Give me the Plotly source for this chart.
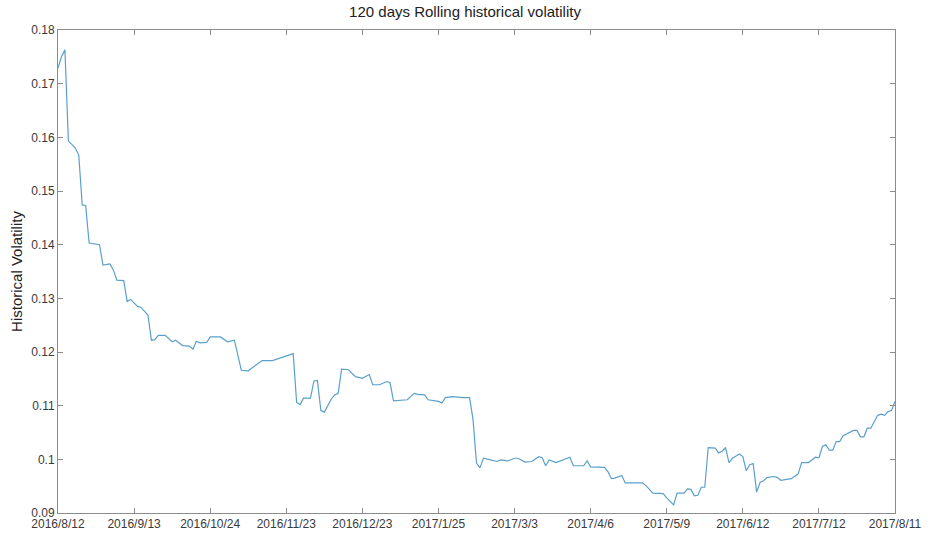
import plotly.graph_objects as go

# Rolling 120-day historical volatility, sampled on trading-day index
day = [0, 1, 2, 3, 4, 5, 6, 7, 8, 9, 12, 13, 15, 16, 17, 19, 20, 21, 23, 24,
       26, 27, 28, 29, 31, 33, 34, 36, 38, 39, 40, 41, 43, 44, 47, 49, 51, 53,
       55, 58, 59, 62, 65, 66, 68, 69, 70, 71, 73, 74, 75, 76, 77, 79, 80, 81,
       82, 84, 86, 88, 90, 91, 93, 95, 96, 97, 101, 103, 104, 106, 107, 110,
       111, 112, 114, 117, 119, 120, 121, 122, 123, 125, 127, 128, 130, 132,
       133, 135, 137, 139, 140, 141, 142, 144, 146, 148, 149, 152, 153, 154,
       158, 159, 160, 161, 163, 164, 169, 170, 172, 175, 176, 178, 179, 181,
       182, 183, 184, 185, 186, 187, 188, 190, 191, 192, 193, 194, 195, 197,
       198, 199, 200, 201, 202, 203, 204, 205, 207, 208, 209, 212, 214, 215,
       217, 219, 220, 221, 222, 223, 224, 225, 226, 227, 230, 231, 232, 233,
       234, 235, 237, 238, 239, 240, 241, 242]
vol = [0.1729, 0.1750, 0.1763, 0.1593, 0.1587, 0.1580, 0.1567, 0.1474, 0.1473,
       0.1403, 0.1400, 0.1362, 0.1364, 0.1353, 0.1334, 0.1333, 0.1294, 0.1298,
       0.1285, 0.1283, 0.1269, 0.1222, 0.1223, 0.1231, 0.1231, 0.1219, 0.1222,
       0.1212, 0.1211, 0.1205, 0.1220, 0.1217, 0.1218, 0.1228, 0.1228, 0.1219,
       0.1222, 0.1166, 0.1165, 0.1180, 0.1184, 0.1184, 0.1190, 0.1192, 0.1197,
       0.1106, 0.1102, 0.1114, 0.1114, 0.1146, 0.1147, 0.1091, 0.1088, 0.1112,
       0.1120, 0.1123, 0.1168, 0.1167, 0.1154, 0.1151, 0.1158, 0.1139, 0.1139,
       0.1145, 0.1143, 0.1109, 0.1111, 0.1123, 0.1121, 0.1120, 0.1111, 0.1108,
       0.1105, 0.1115, 0.1117, 0.1115, 0.1115, 0.1074, 0.0993, 0.0984, 0.1002,
       0.0999, 0.0996, 0.0999, 0.0997, 0.1002, 0.1002, 0.0995, 0.0996, 0.1005,
       0.1003, 0.0988, 0.0999, 0.0994, 0.0999, 0.1004, 0.0988, 0.0988, 0.0997,
       0.0986, 0.0985, 0.0977, 0.0964, 0.0965, 0.0970, 0.0956, 0.0956, 0.0951,
       0.0937, 0.0936, 0.0928, 0.0915, 0.0937, 0.0937, 0.0945, 0.0944, 0.0932,
       0.0933, 0.0948, 0.0948, 0.1022, 0.1021, 0.1012, 0.1015, 0.1022, 0.0994,
       0.1002, 0.1010, 0.1005, 0.0979, 0.0990, 0.0992, 0.0939, 0.0957, 0.0960,
       0.0966, 0.0968, 0.0966, 0.0961, 0.0964, 0.0973, 0.0994, 0.0994, 0.1004,
       0.1003, 0.1024, 0.1027, 0.1017, 0.1017, 0.1033, 0.1033, 0.1044, 0.1054,
       0.1054, 0.1042, 0.1042, 0.1058, 0.1058, 0.1082, 0.1084, 0.1082, 0.1089,
       0.1091, 0.1108]

tick_days = [0, 22, 44, 66, 88, 110, 132, 154, 176, 198, 220, 242]
tick_dates = ["2016/8/12", "2016/9/13", "2016/10/24", "2016/11/23",
              "2016/12/23", "2017/1/25", "2017/3/3", "2017/4/6", "2017/5/9",
              "2017/6/12", "2017/7/12", "2017/8/11"]
y_ticks = [0.09, 0.10, 0.11, 0.12, 0.13, 0.14, 0.15, 0.16, 0.17, 0.18]
y_tick_text = ["0.09", "0.1", "0.11", "0.12", "0.13", "0.14", "0.15",
               "0.16", "0.17", "0.18"]

FONT = "Liberation Sans, Arial, sans-serif"
AXIS_GRAY = "#8c8c8c"
TEXT_GRAY = "#3a3a3a"

fig = go.Figure(
    go.Scatter(
        x=day, y=vol, mode="lines",
        line=dict(color="#5aa0cb", width=1.2),
        hoverinfo="x+y",
    )
)

axis_common = dict(
    showline=True, linecolor=AXIS_GRAY, linewidth=1, mirror="ticks",
    ticks="inside", ticklen=5, tickcolor=AXIS_GRAY, tickwidth=1,
    showgrid=False, zeroline=False, automargin=False,
    tickfont=dict(family=FONT, size=12, color=TEXT_GRAY),
)

fig.update_layout(
    width=930, height=536,
    margin=dict(l=58, r=35, t=30, b=23),
    paper_bgcolor="white", plot_bgcolor="white",
    showlegend=False,
    title=dict(
        text="120 days Rolling historical volatility",
        x=0.5, xanchor="center", y=0.978, yanchor="middle",
        font=dict(family=FONT, size=15, color="#222222"),
    ),
    xaxis=dict(range=[0, 242], tickvals=tick_days, ticktext=tick_dates,
               **axis_common),
    yaxis=dict(range=[0.09, 0.18], tickvals=y_ticks, ticktext=y_tick_text,
               title=dict(text="Historical Volatility",
                          font=dict(family=FONT, size=15, color="#222222"),
                          standoff=4),
               **axis_common),
)

fig.write_html("out.html")
